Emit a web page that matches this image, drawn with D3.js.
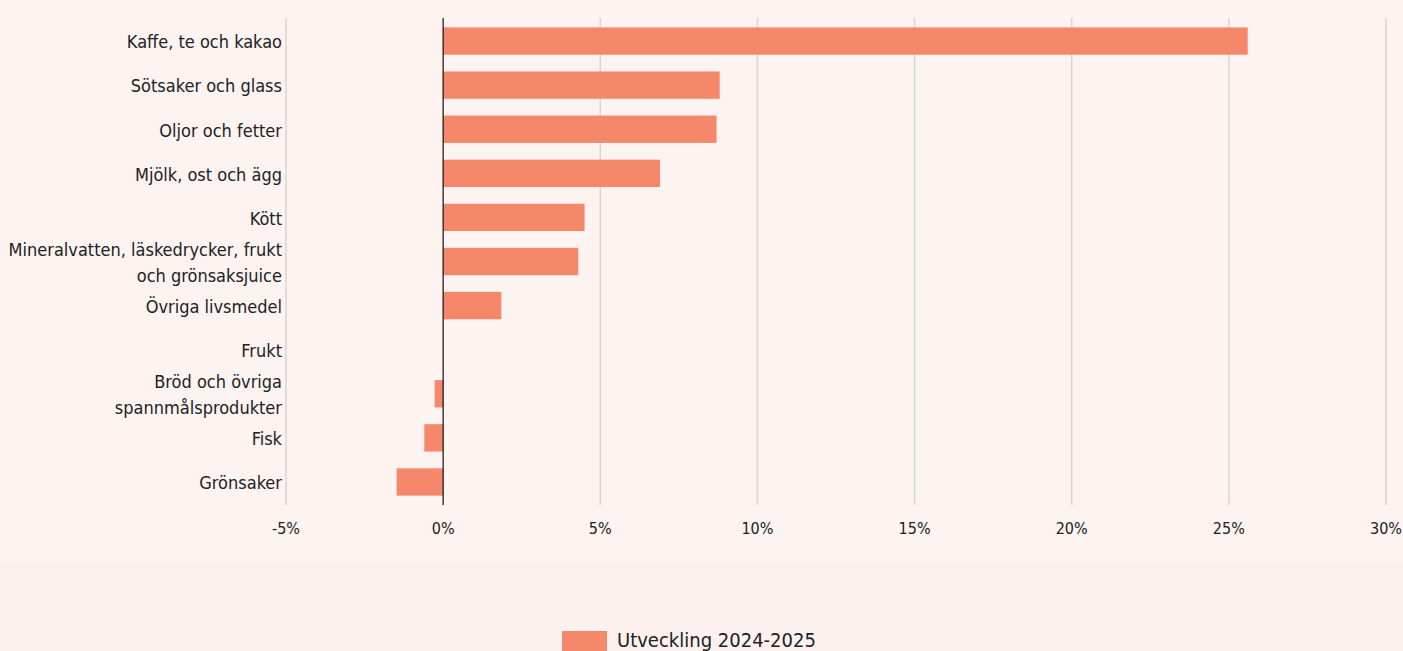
<!DOCTYPE html>
<html><head><meta charset="utf-8">
<script src="https://cdn.jsdelivr.net/npm/d3@7"></script>
<style>
html,body{margin:0;padding:0;background:#fdf3f0;}
svg{display:block;}
text{font-family:"DejaVu Sans Condensed","DejaVu Sans",sans-serif;fill:#222;}
</style></head><body>
<svg id="c" width="1403" height="651"></svg>
<script>
const categories = [
  ["Kaffe, te och kakao"],
  ["Sötsaker och glass"],
  ["Oljor och fetter"],
  ["Mjölk, ost och ägg"],
  ["Kött"],
  ["Mineralvatten, läskedrycker, frukt", "och grönsaksjuice"],
  ["Övriga livsmedel"],
  ["Frukt"],
  ["Bröd och övriga", "spannmålsprodukter"],
  ["Fisk"],
  ["Grönsaker"]
];
const values = [25.6, 8.8, 8.7, 6.9, 4.5, 4.3, 1.85, 0, -0.27, -0.6, -1.48];
const tickValues = [-5, 0, 5, 10, 15, 20, 25, 30];
const seriesName = "Utveckling 2024-2025";

const svg = d3.select("#c");
svg.append("rect").attr("x",0).attr("y",562).attr("width",1403).attr("height",89).attr("fill","#fcf1ee");

const x = d3.scaleLinear().domain([-5, 30]).range([286, 1386]);
const y = d3.scaleBand().domain(d3.range(categories.length)).range([19, 504]).paddingInner(0.38).paddingOuter(0.19);

// gridlines
const grid = svg.append("g");
grid.selectAll("line").data(tickValues.filter(d=>d!==0)).join("line")
  .attr("x1",d=>x(d)).attr("x2",d=>x(d)).attr("y1",18).attr("y2",505)
  .attr("stroke","#d8d6d4").attr("stroke-width",1.5);

// bars
svg.append("g").selectAll("rect").data(values).join("rect")
  .attr("x",d=>x(Math.min(0,d)))
  .attr("width",d=>Math.abs(x(d)-x(0)))
  .attr("y",(d,i)=>y(i))
  .attr("height",y.bandwidth())
  .attr("fill","#f5876a");

// zero line
svg.append("line").attr("x1",x(0)).attr("x2",x(0)).attr("y1",18).attr("y2",505)
  .attr("stroke","#111").attr("stroke-width",1.2);

// x axis labels
svg.append("g").selectAll("text").data(tickValues).join("text")
  .attr("x",d=>x(d)).attr("y",534).attr("text-anchor","middle")
  .attr("font-size",16).text(d=>d+"%");

// category labels
const lab = svg.append("g");
categories.forEach((lines,i)=>{
  const cy = y(i)+y.bandwidth()/2 + 1;
  const n = lines.length;
  lines.forEach((t,j)=>{
    lab.append("text").attr("x",282).attr("y",cy + (j-(n-1)/2)*26)
      .attr("dy","0.35em").attr("text-anchor","end").attr("font-size",18).text(t);
  });
});

// legend
svg.append("rect").attr("x",562).attr("y",631).attr("width",45).attr("height",25).attr("fill","#f5876a");
svg.append("text").attr("x",617).attr("y",647).attr("font-size",20).text(seriesName);
</script>
</body></html>
